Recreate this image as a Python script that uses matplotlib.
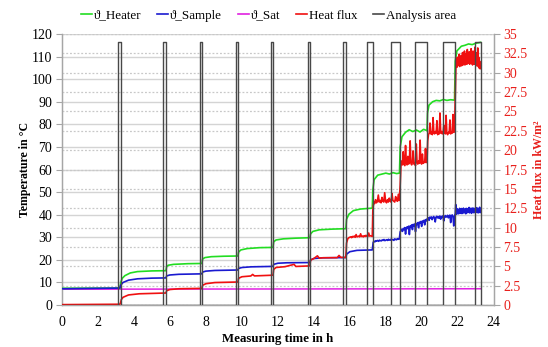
import numpy as np
import matplotlib
matplotlib.use("Agg")
import matplotlib.pyplot as plt

plt.rcParams['font.family'] = ['Liberation Serif', 'DejaVu Serif']

# ---------------- data ----------------
# Heater temperature (°C), smooth key points
heater_t = [0, 3.22, 3.27, 3.35, 3.5, 3.8, 4.2, 5.0, 5.78,
            5.82, 5.9, 6.2, 7.0, 7.78,
            7.82, 7.95, 8.3, 9.0, 9.78,
            9.82, 9.95, 10.3, 11.0, 11.73,
            11.77, 11.9, 12.3, 13.0, 13.78,
            13.82, 13.95, 14.3, 15.0, 15.78,
            15.82, 15.95, 16.2, 16.6, 17.25,
            17.28, 17.35, 17.55, 18.0, 18.2, 18.4, 18.6, 18.76,
            18.8, 18.9, 19.1, 19.3, 19.5, 19.7, 19.9, 20.1, 20.29,
            20.32, 20.4, 20.6, 20.8, 21.0, 21.2, 21.4, 21.6, 21.82,
            21.86, 21.95, 22.2, 22.4, 22.6, 22.8, 23.0, 23.27]
heater_v = [7.4, 7.5, 10.0, 11.8, 13.0, 14.2, 14.8, 15.1, 15.2,
            17.0, 17.6, 18.0, 18.3, 18.4,
            20.4, 21.0, 21.4, 21.6, 21.7,
            23.5, 24.4, 25.0, 25.4, 25.5,
            28.0, 28.8, 29.3, 29.6, 29.8,
            31.5, 32.6, 33.3, 33.6, 33.8,
            38.0, 40.2, 41.8, 42.5, 42.9,
            51.0, 55.5, 57.5, 58.4, 58.0, 58.6, 58.2, 58.4,
            70.0, 74.5, 76.5, 77.6, 76.8, 77.5, 76.6, 77.8, 77.2,
            85.0, 88.5, 90.0, 90.6, 90.4, 91.0, 90.6, 90.9, 90.7,
            108.0, 112.5, 114.6, 115.0, 115.6, 115.3, 115.9, 116.3]

# Sample temperature (°C)
sample_t = [0, 1.0, 3.22, 3.27, 3.4, 3.7, 4.2, 5.0, 5.78,
            5.82, 6.0, 6.5, 7.78,
            7.82, 8.0, 8.5, 9.78,
            9.82, 10.0, 10.5, 11.73,
            11.77, 12.0, 12.5, 13.78,
            13.82, 14.0, 14.5, 15.78,
            15.82, 16.0, 16.4, 17.25]
sample_v = [7.2, 7.3, 7.5, 8.8, 10.0, 11.0, 11.6, 11.9, 12.0,
            12.9, 13.3, 13.6, 13.8,
            14.6, 15.0, 15.3, 15.5,
            16.2, 16.6, 16.9, 17.1,
            18.0, 18.5, 18.7, 18.8,
            20.0, 20.6, 20.9, 21.0,
            22.5, 23.6, 24.2, 24.4]
sample_noisy = [
    (17.3, 18.75, [27.8, 28.2, 28.0, 28.5, 28.3, 28.6, 28.2, 28.7, 28.5, 28.4,
                   28.8, 28.6, 29.0, 28.5, 28.7, 28.9, 28.6, 29.1, 28.8, 28.7,
                   29.2, 28.9, 29.0, 28.6, 29.3, 29.0, 28.9, 29.4, 29.1, 29.2]),
    (18.8, 20.29, [32.4, 33.0, 33.5, 32.6, 33.9, 33.4, 34.3, 31.4, 34.1, 34.6,
                   33.8, 34.9, 31.2, 35.0, 34.5, 35.5, 33.4, 35.7, 35.1, 35.9,
                   32.5, 36.1, 35.6, 36.5, 34.2, 36.7, 36.2, 37.0, 34.8, 37.2,
                   36.6, 37.5, 35.5, 37.8, 37.2, 38.1]),
    (20.32, 21.82, [38.2, 38.6, 37.5, 38.9, 38.4, 39.0, 37.8, 38.7, 39.2, 38.5,
                    36.8, 38.9, 39.3, 38.6, 39.1, 38.4, 39.4, 38.0, 39.2, 38.8,
                    39.5, 37.2, 39.0, 39.6, 38.9, 39.3, 39.7, 38.6, 39.4, 39.8,
                    36.5, 39.5, 39.9, 39.2, 35.0, 39.4]),
    (21.86, 23.27, [40.5, 44.5, 41.8, 40.2, 42.6, 40.8, 42.2, 40.4, 41.9, 42.8,
                    40.6, 42.3, 41.0, 42.7, 40.5, 42.4, 41.2, 42.9, 40.7, 42.1,
                    41.3, 42.6, 40.4, 42.8, 41.0, 42.3, 40.9, 42.7, 41.4, 43.2,
                    40.8, 42.5, 41.1, 42.9, 40.6, 42.4, 41.5, 43.0, 40.9, 42.6,
                    41.2, 42.8, 40.7, 42.2, 41.6, 43.1, 41.0, 42.5, 40.8, 42.7,
                    41.3, 43.3, 40.9, 41.5]),
]

# Saturation temperature (°C)
sat_t = [0, 23.27]
sat_v = [7.0, 7.2]

# Heat flux (kW/m²)
flux_t = [0, 3.22, 3.26, 3.3, 3.4, 3.7, 4.3, 5.78,
          5.82, 6.0, 6.5, 7.78,
          7.82, 8.0, 8.5, 9.78,
          9.82, 10.0, 10.5, 10.6, 10.7, 11.73,
          11.77, 11.9, 12.4, 12.9, 13.0, 13.78,
          13.82, 14.0, 14.2, 14.3, 14.5, 15.3, 15.4, 15.5, 15.78,
          15.82, 15.88]
flux_v = [0.05, 0.1, 0.3, 0.7, 1.0, 1.3, 1.45, 1.55,
          1.85, 2.0, 2.1, 2.15,
          2.55, 2.75, 2.9, 2.97,
          3.45, 3.65, 3.75, 3.95, 3.76, 3.85,
          4.6, 4.85, 4.95, 5.25, 4.98, 5.05,
          5.8, 6.0, 6.35, 6.05, 6.1, 6.12, 6.4, 6.15, 6.15,
          8.0, 8.5]
flux_noisy = [
    (15.9, 17.25, [8.6, 8.7, 8.75, 8.8, 8.7, 8.85, 8.8, 8.9, 8.75, 9.1,
                   8.8, 8.85, 8.9, 8.8, 9.2, 8.85, 8.9, 8.8, 8.95, 8.85,
                   9.0, 8.9, 8.85, 9.3, 8.9, 8.95, 8.9, 8.85]),
    (17.28, 18.75, [12.2, 13.3, 13.1, 13.6, 13.2, 13.4, 14.2, 13.3, 13.5, 13.2,
                    13.9, 13.4, 13.3, 14.5, 13.4, 13.2, 13.6, 13.3, 13.8, 13.4,
                    13.3, 14.4, 13.5, 13.4, 13.3, 14.0, 13.5, 13.4, 14.3, 13.5]),
    (18.8, 20.29, [15.5, 18.0, 18.6, 18.1, 19.8, 18.2, 18.0, 20.6, 18.3, 18.1,
                   19.2, 18.2, 18.4, 21.2, 18.3, 18.1, 18.5, 19.9, 18.2, 18.3,
                   18.0, 20.8, 18.4, 18.2, 18.6, 18.3, 21.3, 18.4, 18.2, 19.5,
                   18.3, 18.5, 18.4, 20.2, 18.4, 18.5]),
    (20.33, 21.82, [21.2, 22.0, 22.2, 23.5, 22.1, 22.3, 22.0, 24.2, 22.2, 22.1,
                    22.4, 22.2, 23.8, 22.0, 22.3, 22.1, 24.8, 22.2, 22.4, 22.1,
                    22.2, 23.2, 22.3, 22.1, 24.5, 22.2, 22.0, 22.3, 22.2, 23.9,
                    22.1, 22.3, 22.2, 24.6, 22.3, 22.4]),
    (21.87, 23.27, [28.0, 30.8, 31.6, 30.7, 32.0, 30.9, 31.5, 31.0, 32.4, 30.8,
                    31.8, 31.1, 32.2, 30.9, 31.6, 32.6, 31.0, 31.9, 31.2, 32.8,
                    31.0, 32.1, 31.3, 32.5, 31.1, 33.0, 31.2, 32.3, 31.4, 32.7,
                    31.1, 32.0, 31.3, 33.1, 31.2, 32.4, 31.0, 32.8, 31.3, 32.2,
                    31.1, 33.3, 31.2, 32.6, 30.9, 32.5, 31.0, 33.2, 30.8, 32.0,
                    30.6, 31.5, 30.5, 30.8]),
]

# Analysis area intervals (h) and marker height (°C)
area_start = [3.14, 5.64, 7.66, 9.65, 11.64, 13.66, 15.64, 16.93, 18.30, 19.62, 21.17, 22.94]
area_end = [3.30, 5.78, 7.80, 9.78, 11.74, 13.80, 15.80, 17.30, 18.78, 20.31, 21.83, 23.27]
area_height = 116.5

x_ticks = list(range(0, 25, 2))
y_ticks = list(range(0, 121, 10))
y2_ticks = [0, 2.5, 5, 7.5, 10, 12.5, 15, 17.5, 20, 22.5, 25, 27.5, 30, 32.5, 35]


def merge(t, v, segs):
    tt = list(t)
    vv = list(v)
    for a, b, vals in segs:
        tt += list(np.linspace(a, b, len(vals)))
        vv += list(vals)
    order = np.argsort(tt, kind='stable')
    return np.asarray(tt)[order], np.asarray(vv)[order]


sample_T, sample_V = merge(sample_t, sample_v, sample_noisy)
flux_T, flux_V = merge(flux_t, flux_v, flux_noisy)

area_x = [0.0]
area_y = [0.0]
for s, e in zip(area_start, area_end):
    area_x += [s, s, e, e]
    area_y += [0, area_height, area_height, 0]
area_x.append(23.27)
area_y.append(0)

# ---------------- plot ----------------
fig = plt.figure(figsize=(5.48, 3.47), dpi=100)
ax = fig.add_axes([0.113, 0.121, 0.788, 0.781])
ax2 = ax.twinx()

RED = '#e8201c'
GRID = '#d4d4d4'

ax.set_xlim(0, 24)
ax.set_ylim(0, 120)
ax2.set_ylim(0, 35)

ax.set_xticks(x_ticks)
ax.set_yticks(y_ticks)
ax2.set_yticks(y2_ticks)
ax2.set_yticklabels(['%g' % v for v in y2_ticks])

ax.grid(axis='y', color=GRID, lw=1.0, ls='-', zorder=0)
ax2.grid(axis='y', color='#c8c8c8', lw=0.9, ls=(0, (1.5, 1.5)), zorder=0)
ax.set_axisbelow(True)
ax2.set_axisbelow(True)

T = ax.transData
l_sat, = ax2.plot(sat_t, sat_v, color='#e020e0', lw=1.1, transform=T, zorder=2)
l_heat, = ax2.plot(heater_t, heater_v, color='#22dd22', lw=1.2, transform=T, zorder=3)
l_samp, = ax2.plot(sample_T, sample_V, color='#1a1ad0', lw=1.2, transform=T, zorder=3)
l_flux, = ax2.plot(flux_T, flux_V, color='#f01010', lw=1.2, zorder=4)
l_area, = ax2.plot(area_x, area_y, color='#484848', lw=1.0, transform=T, zorder=5)

for a in (ax, ax2):
    a.spines['top'].set_visible(False)
    for s in ('left', 'right', 'bottom'):
        a.spines[s].set_color('#a6a6a6')
        a.spines[s].set_linewidth(0.9)

ax.tick_params(axis='y', length=4, color='#a6a6a6', labelsize=10, pad=3)
ax.tick_params(axis='x', length=0, labelsize=10, pad=8)
ax2.tick_params(axis='y', length=4, color='#a6a6a6', labelsize=10,
                labelcolor=RED, pad=3)

ax.set_xlabel('Measuring time in h', fontsize=9.3, fontweight='bold', labelpad=3)
ax.set_ylabel('Temperature in °C', fontsize=8.6, fontweight='bold', labelpad=0.5)
ax2.set_ylabel('Heat flux in kW/m²', fontsize=8.6, fontweight='bold', color=RED, labelpad=4)

handles = [l_heat, l_samp, l_sat, l_flux, l_area]
labels = ['ϑ_Heater', 'ϑ_Sample', 'ϑ_Sat', 'Heat flux', 'Analysis area']
leg = fig.legend(handles, labels, loc='center', bbox_to_anchor=(0.49, 0.955),
                 ncol=5, frameon=False, fontsize=9.4, handlelength=0.85,
                 handletextpad=0.15, columnspacing=1.2)
for h in leg.legend_handles:
    h.set_linewidth(1.2)

fig.savefig('out.png', dpi=100)
